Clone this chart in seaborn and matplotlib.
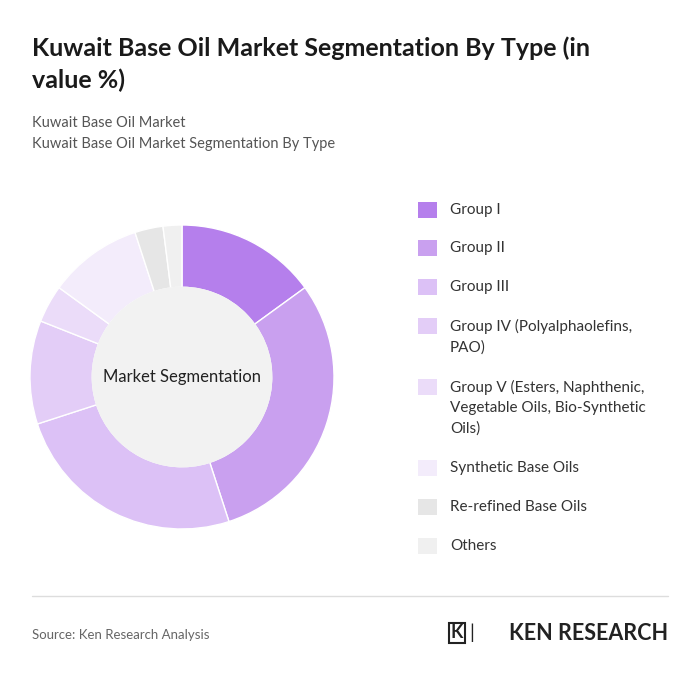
import matplotlib
matplotlib.use("Agg")
import matplotlib.pyplot as plt
import seaborn as sns
from matplotlib.patches import Circle, Rectangle

sns.set_theme(style="white")
plt.rcParams["font.family"] = ["Lato", "DejaVu Sans"]

# 数据
labels = ["Group I", "Group II", "Group III", "Group IV (Polyalphaolefins,\nPAO)",
          "Group V (Esters, Naphthenic,\nVegetable Oils, Bio-Synthetic\nOils)",
          "Synthetic Base Oils", "Re-refined Base Oils", "Others"]
values = [15, 30, 25, 11, 4, 10, 3, 2]
colors = ["#b57fec", "#c9a0ef", "#dcc1f6", "#e3cdf7", "#ebdcf9", "#f3ecfb", "#e6e6e6", "#f0f0f0"]

fig = plt.figure(figsize=(7, 6.82), dpi=100)
W, H = 700, 682

# 标题
fig.text(32/W, 1-64/H, "Kuwait Base Oil Market Segmentation By Type (in\nvalue %)",
         fontsize=18, fontweight="bold", color="#1a1a1a", va="center", linespacing=1.45)
fig.text(32/W, 1-123/H, "Kuwait Base Oil Market", fontsize=10.5, color="#555555", va="center")
fig.text(32/W, 1-144/H, "Kuwait Base Oil Market Segmentation By Type", fontsize=10.5, color="#555555", va="center")

# 环形图
ax = fig.add_axes([(182-152)/W, 1-(377+152)/H, 304/W, 304/H])
ax.pie(values, colors=colors, startangle=90, counterclock=False, radius=1,
       wedgeprops=dict(width=0.41, edgecolor="white", linewidth=1))
ax.add_patch(Circle((0, 0), 0.59, color="#f2f2f2", zorder=3))
ax.text(0, 0, "Market Segmentation", ha="center", va="center", fontsize=12, color="#222222", zorder=4)
ax.set_xlim(-1.0, 1.0); ax.set_ylim(-1.0, 1.0)
ax.set_aspect("equal"); ax.axis("off")

# 图例
ys = [210, 248, 287, 326, 387, 468, 507, 546]
for lab, col, y in zip(labels, colors, ys):
    fig.patches.append(Rectangle((418/W, 1-(y+8)/H), 19/W, 16/H, transform=fig.transFigure,
                                 facecolor=col, edgecolor="none"))
    fig.text(450/W, 1-(y-7)/H, lab, fontsize=11, color="#333333", va="top", linespacing=1.55)

# 底部
fig.add_artist(plt.Line2D([32/W, 668/W], [1-596/H, 1-596/H], color="#dddddd", lw=1))
fig.text(32/W, 1-635/H, "Source: Ken Research Analysis", fontsize=9.5, color="#666666", va="center")
fig.text(668/W, 1-633/H, "KEN RESEARCH", fontsize=15.5, fontweight="bold", color="#222222",
         ha="right", va="center", fontstretch="expanded")
fig.text(472/W, 1-633/H, "|", fontsize=14, color="#222222", ha="center", va="center")
fig.text(457/W, 1-633/H, "K", fontsize=13, fontweight="bold", color="#222222", ha="center", va="center",
         bbox=dict(boxstyle="square,pad=0.1", fc="white", ec="#222222", lw=1.5))

fig.savefig("out.png", dpi=100)
plt.close("all")
